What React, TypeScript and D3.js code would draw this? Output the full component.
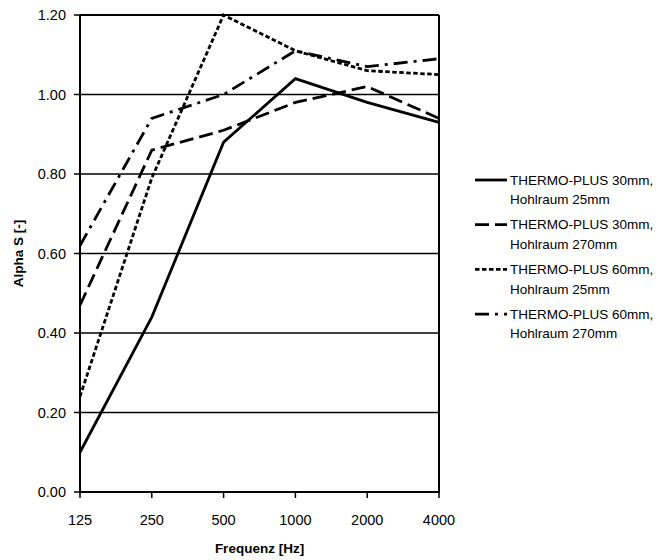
import React from "react";
import * as d3 from "d3";

const categories = ["125", "250", "500", "1000", "2000", "4000"];
const yTicks = [0, 0.2, 0.4, 0.6, 0.8, 1.0, 1.2];

const s30_25 = [0.10, 0.44, 0.88, 1.04, 0.98, 0.93];
const s30_270 = [0.47, 0.86, 0.91, 0.98, 1.02, 0.94];
const s60_25 = [0.24, 0.79, 1.20, 1.11, 1.06, 1.05];
const s60_270 = [0.62, 0.94, 1.00, 1.11, 1.07, 1.09];

const seriesNames = [
  ["THERMO-PLUS 30mm,", "Hohlraum 25mm"],
  ["THERMO-PLUS 30mm,", "Hohlraum 270mm"],
  ["THERMO-PLUS 60mm,", "Hohlraum 25mm"],
  ["THERMO-PLUS 60mm,", "Hohlraum 270mm"],
];
const seriesValues = [s30_25, s30_270, s60_25, s60_270];
const dashes = ["none", "14,6", "4.5,2.5", "14,6,3,6"];

const FONT = "'Liberation Sans', Arial, Helvetica, sans-serif";

export default function App() {
  const left = 80, right = 439, top = 15, bottom = 492;
  const x = d3.scalePoint<string>().domain(categories).range([left, right]).padding(0);
  const y = d3.scaleLinear().domain([0, 1.2]).range([bottom, top]);
  const line = d3
    .line<number>()
    .x((_, i) => x(categories[i]) as number)
    .y((d) => y(d));

  const legendX0 = 475, legendX1 = 507, legendTextX = 510;
  const legendY0 = 180, legendStep = 44.7;

  return (
    <svg
      width={657}
      height={560}
      style={{ position: "absolute", left: 0, top: 0, background: "#fff" }}
      fontFamily={FONT}
    >
      <rect x={0} y={0} width={657} height={560} fill="#fff" />
      {/* gridlines */}
      {yTicks.map((t) => (
        <line key={"g" + t} x1={left} x2={right} y1={y(t)} y2={y(t)} stroke="#000" strokeWidth={t === 1.2 ? 2 : 1.3} />
      ))}
      {/* right border */}
      <line x1={right} x2={right} y1={top} y2={bottom} stroke="#000" strokeWidth={2} />
      {/* axes */}
      <line x1={left} x2={left} y1={top} y2={bottom + 1} stroke="#000" strokeWidth={2} />
      <line x1={left} x2={right + 1} y1={bottom} y2={bottom} stroke="#000" strokeWidth={2} />
      {yTicks.map((t) => (
        <g key={"yt" + t}>
          <line x1={left - 6} x2={left} y1={y(t)} y2={y(t)} stroke="#000" strokeWidth={1.5} />
          <text x={left - 14} y={y(t)} dy="0.35em" textAnchor="end" fontSize={14.5} fill="#000">
            {d3.format(".2f")(t)}
          </text>
        </g>
      ))}
      {categories.map((c) => (
        <g key={"xt" + c}>
          <line x1={x(c)} x2={x(c)} y1={bottom} y2={bottom + 6} stroke="#000" strokeWidth={1.5} />
          <text x={x(c)} y={525} textAnchor="middle" fontSize={14.5} fill="#000">
            {c}
          </text>
        </g>
      ))}
      <text x={(left + right) / 2} y={553} textAnchor="middle" fontSize={13.5} fontWeight="bold" fill="#000">
        Frequenz [Hz]
      </text>
      <text
        transform={`translate(23,${(top + bottom) / 2}) rotate(-90)`}
        textAnchor="middle"
        fontSize={13.5}
        fontWeight="bold"
        fill="#000"
      >
        Alpha S [-]
      </text>
      {/* series */}
      {seriesValues.map((vals, i) => (
        <path
          key={"s" + i}
          d={line(vals) || ""}
          fill="none"
          stroke="#000"
          strokeWidth={2.8}
          strokeDasharray={dashes[i]}
          strokeLinejoin="miter"
        />
      ))}
      {/* legend */}
      {seriesNames.map((names, i) => {
        const ly = legendY0 + i * legendStep;
        return (
          <g key={"l" + i}>
            <line x1={legendX0} x2={legendX1} y1={ly} y2={ly} stroke="#000" strokeWidth={2.8} strokeDasharray={dashes[i]} />
            <text x={legendTextX} y={ly} dy="0.35em" fontSize={13.5} fill="#000">
              {names[0]}
            </text>
            <text x={legendTextX} y={ly + 19.5} dy="0.35em" fontSize={13.5} fill="#000">
              {names[1]}
            </text>
          </g>
        );
      })}
    </svg>
  );
}
